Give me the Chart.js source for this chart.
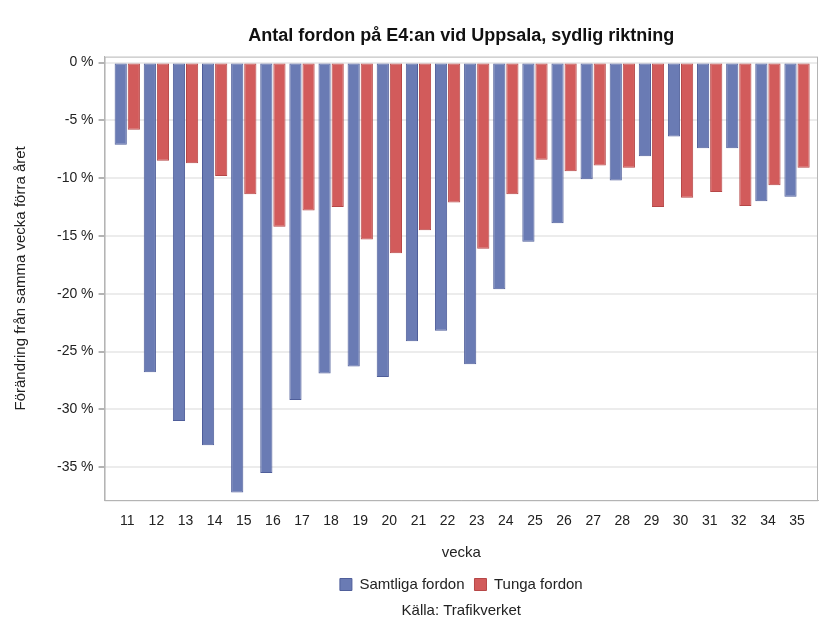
<!DOCTYPE html>
<html>
<head>
<meta charset="utf-8">
<script src="https://cdn.jsdelivr.net/npm/chart.js@4"></script>
<style>
    html, body { margin: 0; padding: 0; background: #fff; }
    #wrap { width: 826px; height: 630px; }
</style>
</head>
<body>
<div id="wrap"><canvas id="chart" width="826" height="630"></canvas></div>
<script>
// Veckor (vecka 33 saknas i källan)
const weeks = ["11", "12", "13", "14", "15", "16", "17", "18", "19", "20", "21", "22",
               "23", "24", "25", "26", "27", "28", "29", "30", "31", "32", "34", "35"];
// Förändring i procent mot samma vecka förra året
const allVehicles = [-7.1, -26.8, -31.0, -33.1, -37.2, -35.5, -29.2, -26.9, -26.3, -27.2, -24.1, -23.2,
                     -26.1, -19.6, -15.5, -13.9, -10.1, -10.2, -8.1, -6.4, -7.4, -7.4, -12.0, -11.6];
const heavyVehicles = [-5.8, -8.5, -8.7, -9.8, -11.4, -14.2, -12.8, -12.5, -15.3, -16.5, -14.5, -12.1,
                       -16.1, -11.4, -8.4, -9.4, -8.9, -9.1, -12.5, -11.7, -11.2, -12.4, -10.6, -9.1];
const yTicks = [0, -5, -10, -15, -20, -25, -30, -35];

const font = "'Liberation Sans', Arial, sans-serif";

const toPoints = arr => arr.map((v, i) => ({ x: i, y: v }));

// Ram runt plottytan
const frame = {
    id: "frame",
    afterDraw(chart) {
        const { ctx, chartArea: a } = chart;
        ctx.save();
        ctx.strokeStyle = "#b4b4b4";
        ctx.lineWidth = 1;
        ctx.strokeRect(a.left + 0.5, a.top + 0.5, a.right - a.left - 1, a.bottom - a.top);
        ctx.restore();
    }
};

new Chart(document.getElementById("chart"), {
    type: "bar",
    data: {
        datasets: [{
            label: "Samtliga fordon",
            data: toPoints(allVehicles),
            backgroundColor: "#6a7bb4",
            borderColor: "#4f5e9a",
            borderWidth: 1,
            borderSkipped: false,
            barPercentage: 0.93,
            categoryPercentage: 0.9
        }, {
            label: "Tunga fordon",
            data: toPoints(heavyVehicles),
            backgroundColor: "#d25b5b",
            borderColor: "#b64747",
            borderWidth: 1,
            borderSkipped: false,
            barPercentage: 0.93,
            categoryPercentage: 0.9
        }]
    },
    options: {
        responsive: false,
        animation: false,
        layout: { padding: { left: 12, right: 8, top: 25, bottom: 6 } },
        scales: {
            x: {
                type: "linear",
                offset: false,
                min: -0.78,
                max: 23.72,
                grid: { display: false, drawTicks: true, tickLength: 6, color: "#b4b4b4" },
                border: { display: true, color: "#b4b4b4" },
                ticks: {
                    stepSize: 1,
                    includeBounds: false,
                    autoSkip: false,
                    maxRotation: 0,
                    color: "#222",
                    font: { family: font, size: 14 },
                    padding: 7,
                    callback: v => Number.isInteger(v) ? weeks[v] : ""
                },
                afterBuildTicks: scale => {
                    scale.ticks = weeks.map((w, i) => ({ value: i }));
                },
                title: {
                    display: true,
                    text: "vecka",
                    color: "#222",
                    font: { family: font, size: 15 },
                    padding: { top: 7, bottom: 5 }
                }
            },
            y: {
                min: -37.86,
                max: 0.52,
                afterBuildTicks: scale => {
                    scale.ticks = yTicks.map(v => ({ value: v }));
                },
                grid: {
                    color: "#ececec",
                    lineWidth: 2,
                    tickColor: "#b4b4b4",
                    tickLength: 6
                },
                border: { display: true, color: "#b4b4b4" },
                ticks: {
                    color: "#222",
                    font: { family: font, size: 14 },
                    padding: 5,
                    callback: v => v + " %"
                },
                title: {
                    display: true,
                    text: "Förändring från samma vecka förra året",
                    color: "#222",
                    font: { family: font, size: 15 },
                    padding: { top: 0, bottom: 22 }
                }
            }
        },
        plugins: {
            title: {
                display: true,
                text: "Antal fordon på E4:an vid Uppsala, sydlig riktning",
                fullSize: false,
                color: "#111",
                font: { family: font, size: 18, weight: "bold" },
                padding: { top: 0, bottom: 10 }
            },
            legend: {
                position: "bottom",
                fullSize: false,
                labels: {
                    boxWidth: 12,
                    boxHeight: 12,
                    color: "#222",
                    font: { family: font, size: 15 },
                    padding: 10
                }
            },
            subtitle: {
                display: true,
                position: "bottom",
                fullSize: false,
                text: "Källa: Trafikverket",
                color: "#222",
                font: { family: font, size: 15 },
                padding: { top: 0, bottom: 4 }
            },
            tooltip: { enabled: false }
        }
    },
    plugins: [frame]
});
</script>
</body>
</html>
